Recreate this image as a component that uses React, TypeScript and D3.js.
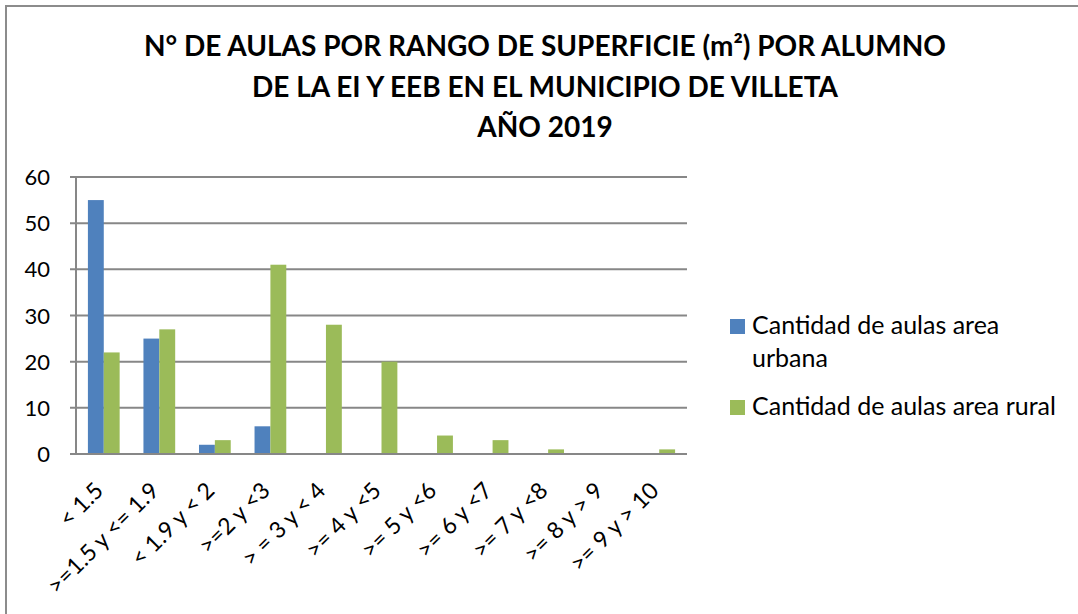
import React, { useEffect, useRef } from "react";
import * as d3 from "d3";

const categories = [
  "< 1.5",
  ">=1.5 y <= 1.9",
  "< 1.9 y < 2",
  ">=2 y <3",
  "> = 3 y < 4",
  ">= 4 y <5",
  ">= 5 y <6",
  ">= 6 y <7",
  ">= 7 y <8",
  ">= 8 y > 9",
  ">= 9 y > 10",
];
const urbana = [55, 25, 2, 6, 0, 0, 0, 0, 0, 0, 0];
const rural = [22, 27, 3, 41, 28, 20, 4, 3, 1, 0, 1];
const yTicks = [0, 10, 20, 30, 40, 50, 60];
const titleLines = [
  "N° DE AULAS POR RANGO DE SUPERFICIE (m²) POR ALUMNO",
  "DE LA EI Y EEB EN EL MUNICIPIO DE VILLETA",
  "AÑO 2019",
];

const colors = ["#4F81BD", "#9BBB59"];
const FONT = "Lato, 'Open Sans', sans-serif";

const App = () => {
  const svgRef = useRef<SVGSVGElement>(null);

  useEffect(() => {
    const svg = d3.select(svgRef.current);
    svg.selectAll("*").remove();

    const left = 76, right = 687, top = 177, bottom = 454;

    // outer frame (cropped at right/bottom)
    svg.append("rect")
      .attr("x", 6).attr("y", 6)
      .attr("width", 1100).attr("height", 700)
      .attr("fill", "none")
      .attr("stroke", "#8c8c8c")
      .attr("stroke-width", 2);

    // title
    svg.append("g")
      .selectAll("text")
      .data(titleLines)
      .join("text")
      .attr("x", 545)
      .attr("y", (d, i) => 56 + i * 40.5)
      .attr("text-anchor", "middle")
      .attr("font-family", FONT)
      .attr("font-weight", "bold")
      .attr("font-size", 28)
      .attr("fill", "#000")
      .text((d) => d);

    const x0 = d3.scaleBand().domain(categories).range([left, right]).paddingInner(0).paddingOuter(0);
    const groupPad = (x0.bandwidth() * 1.5) / 3.5 / 2;
    const x1 = d3.scaleBand()
      .domain(["0", "1"])
      .range([groupPad, x0.bandwidth() - groupPad]);
    const y = d3.scaleLinear().domain([0, 60]).range([bottom, top]);

    // gridlines
    svg.append("g")
      .selectAll("line")
      .data(yTicks)
      .join("line")
      .attr("x1", left - 6)
      .attr("x2", right)
      .attr("y1", (d) => y(d))
      .attr("y2", (d) => y(d))
      .attr("stroke", "#878787")
      .attr("stroke-width", 2);

    // y axis line
    svg.append("line")
      .attr("x1", left).attr("x2", left)
      .attr("y1", top).attr("y2", bottom)
      .attr("stroke", "#878787")
      .attr("stroke-width", 2);

    // y labels
    svg.append("g")
      .selectAll("text")
      .data(yTicks)
      .join("text")
      .attr("x", 50)
      .attr("y", (d) => y(d) + 8)
      .attr("text-anchor", "end")
      .attr("font-family", FONT)
      .attr("font-size", 22)
      .attr("fill", "#000")
      .text((d) => d);

    // bars
    const data = categories.map((c, i) => ({ cat: c, values: [urbana[i], rural[i]] }));
    svg.append("g")
      .selectAll("g")
      .data(data)
      .join("g")
      .attr("transform", (d) => `translate(${x0(d.cat)},0)`)
      .selectAll("rect")
      .data((d) => d.values.map((v, k) => ({ v, k })))
      .join("rect")
      .attr("x", (d) => x1(String(d.k)))
      .attr("width", x1.bandwidth())
      .attr("y", (d) => y(d.v))
      .attr("height", (d) => bottom - y(d.v))
      .attr("fill", (d) => colors[d.k]);

    // baseline above bars
    svg.append("line")
      .attr("x1", left - 6).attr("x2", right)
      .attr("y1", bottom).attr("y2", bottom)
      .attr("stroke", "#878787")
      .attr("stroke-width", 2);

    // x labels
    svg.append("g")
      .selectAll("text")
      .data(categories)
      .join("text")
      .attr("transform", (d) => `translate(${x0(d)! + x0.bandwidth() / 2 + 1},${bottom + 38}) rotate(-45)`)
      .attr("text-anchor", "end")
      .attr("font-family", FONT)
      .attr("font-size", 23)
      .attr("fill", "#000")
      .text((d) => d);

    // legend
    const legend = svg.append("g");
    const entries = [
      { lines: ["Cantidad de aulas area", "urbana"], y: 334 },
      { lines: ["Cantidad de aulas area rural"], y: 415 },
    ];
    entries.forEach((e, i) => {
      legend.append("rect")
        .attr("x", 730).attr("y", e.y - 15)
        .attr("width", 15).attr("height", 15)
        .attr("fill", colors[i]);
      e.lines.forEach((l, j) => {
        legend.append("text")
          .attr("x", 752)
          .attr("y", e.y + j * 33)
          .attr("font-family", FONT)
          .attr("font-size", 25)
          .attr("fill", "#000")
          .text(l);
      });
    });
  }, []);

  return (
    <svg
      ref={svgRef}
      width={1078}
      height={614}
      style={{ position: "absolute", left: 0, top: 0, background: "#fff" }}
    />
  );
};

export default App;
